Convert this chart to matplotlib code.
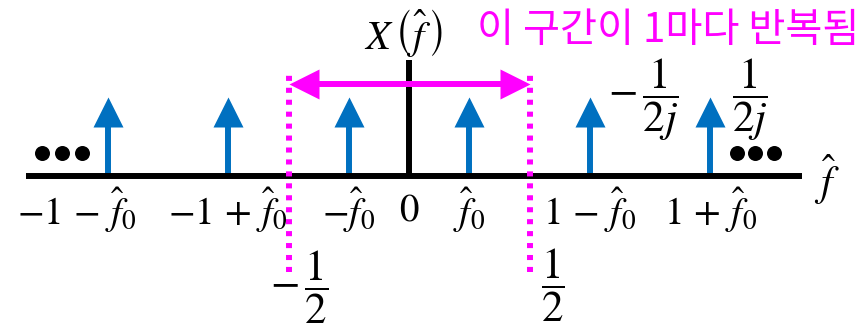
import matplotlib
matplotlib.use('Agg')
import matplotlib.pyplot as plt
import matplotlib.transforms as mtransforms

plt.rcParams['mathtext.fontset'] = 'stix'

# spectrum data
f0 = 0.25
stem_freqs = [-1 - f0, -1 + f0, -f0, f0, 1 - f0, 1 + f0]
stem_heights = [1, 1, 1, 1, 1, 1]
tick_labels = [r'$-1\,-\,\hat{f}_0$', r'$-1\,+\,\hat{f}_0$', r'$-\hat{f}_0$', r'$0$',
               r'$\hat{f}_0$', r'$1\,-\,\hat{f}_0$', r'$1\,+\,\hat{f}_0$']
tick_freqs = [-1 - f0, -1 + f0, -f0, 0, f0, 1 - f0, 1 + f0]
period_edges = [-0.5, 0.5]
edge_labels = [r'$-\,\dfrac{1}{2}$', r'$\dfrac{1}{2}$']
amp_labels = [r'$-\,\dfrac{1}{2j}$', r'$\dfrac{1}{2j}$']
note = '이 구간이 1마다 반복됨'

blue = '#0070C0'
magenta = '#FF00FF'

fig = plt.figure(figsize=(8.6, 3.24), dpi=100)
ax = fig.add_axes([0, 0, 1, 1])
ax.set_xlim(-409 / 241, 451 / 241)
ax.set_ylim(-148 / 79, 176 / 79)
ax.axis('off')

# axes of the plot
ax.plot([-1.589, 1.631], [0, 0], color='black', lw=4.3, solid_capstyle='butt', zorder=3)
ax.plot([0, 0], [0, 1.47], color='black', lw=4.3, solid_capstyle='butt', zorder=3)

# impulses
for f, h in zip(stem_freqs, stem_heights):
    ax.plot([f, f], [0, h - 0.3], color=blue, lw=4.3, solid_capstyle='butt', zorder=2)
    ax.plot(f, h - 0.19, marker='^', markersize=21.6, color=blue, mec='none', zorder=2)

# one period marked by dotted lines and a double arrow
for e in period_edges:
    ax.plot([e, e], [-1.215, 1.316], color=magenta, lw=4.3, dashes=(0.85, 1.15),
            dash_capstyle='butt', zorder=4)
arrow_y = 1.17
ax.plot([period_edges[0] + 0.08, period_edges[1] - 0.08], [arrow_y, arrow_y],
        color=magenta, lw=4.3, solid_capstyle='butt', zorder=4)
left_tr = mtransforms.offset_copy(ax.transData, fig, x=15, y=0, units='dots')
right_tr = mtransforms.offset_copy(ax.transData, fig, x=-15, y=0, units='dots')
ax.plot(period_edges[0], arrow_y, marker='<', markersize=21.6, color=magenta,
        mec='none', transform=left_tr, zorder=4)
ax.plot(period_edges[1], arrow_y, marker='>', markersize=21.6, color=magenta,
        mec='none', transform=right_tr, zorder=4)

# dots on both ends
for x in [-1.523, -1.440, -1.357, 1.361, 1.436, 1.515]:
    ax.plot(x, 0.29, 'o', color='black', markersize=10.8, mec='none')

# labels
fs = 28
for f, lab in zip(tick_freqs, tick_labels):
    x = f - 0.128 if f == tick_freqs[0] else f
    ax.text(x, -0.43, lab, fontsize=fs, ha='center', va='center')
ax.text(-0.456, -1.405, edge_labels[0], fontsize=31, ha='center', va='center')
ax.text(0.598, -1.38, edge_labels[1], fontsize=31, ha='center', va='center')
ax.text(0.971, 0.962, amp_labels[0], fontsize=31, ha='center', va='center')
ax.text(1.415, 0.962, amp_labels[1], fontsize=31, ha='center', va='center')
ax.text(-0.025, 1.81, r'$X\,\left(\hat{f}\,\right)$', fontsize=29, ha='center', va='center')
ax.text(1.734, -0.05, r'$\hat{f}$', fontsize=30, ha='center', va='center')
ax.text(0.282, 1.848, note, fontsize=29, color=magenta, ha='left', va='center',
        family=['Noto Sans CJK KR', 'DejaVu Sans'])

fig.savefig('out.png', dpi=100)
